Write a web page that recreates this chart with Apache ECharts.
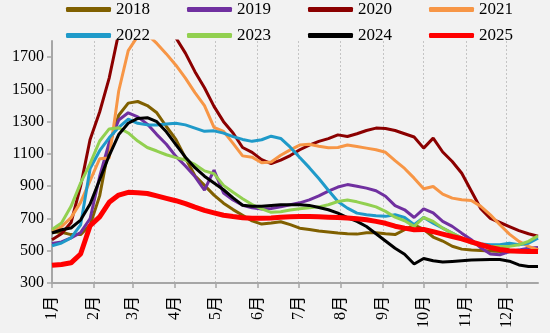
<!DOCTYPE html>
<html><head><meta charset="utf-8">
<script src="https://cdn.jsdelivr.net/npm/echarts@6/dist/echarts.min.js"></script>
<style>html,body{margin:0;padding:0;background:#f2f2f2}#c{width:550px;height:333px}</style>
</head><body><div id="c"></div>
<script>
const years = ['2018','2019','2020','2021','2022','2023','2024','2025'];
const colors = ['#806000','#7030A0','#8B0000','#F79646','#1F9AC9','#92D050','#000000','#FF0000'];
const s2018 = [615,615,600,600,660,840,1150,1340,1415,1425,1400,1355,1270,1190,1075,965,905,845,795,755,720,685,665,672,680,662,640,632,622,616,610,606,603,612,612,605,600,630,660,632,585,560,528,510,504,502,498,496,494,496,505,515];
const s2019 = [545,555,580,612,700,960,1170,1310,1355,1330,1285,1220,1160,1085,1025,960,875,1000,858,815,782,766,758,762,772,785,797,815,840,870,895,910,900,888,872,838,780,754,706,760,735,682,651,609,568,518,480,475,495,505,515,520];
const s2020 = [568,605,675,900,1190,1360,1570,1850,1950,2000,2000,1970,1900,1820,1725,1610,1510,1395,1300,1230,1140,1110,1065,1040,1062,1090,1126,1155,1178,1195,1218,1208,1225,1245,1260,1258,1245,1225,1205,1136,1198,1112,1053,980,870,760,700,675,650,625,605,590];
const s2021 = [622,650,705,800,935,1070,1075,1490,1740,1830,1840,1785,1720,1650,1570,1480,1400,1265,1240,1165,1088,1080,1045,1050,1092,1125,1155,1160,1148,1138,1140,1155,1146,1136,1126,1110,1058,1010,950,884,898,851,826,816,812,775,723,661,603,558,527,506];
const s2022 = [531,548,580,660,1010,1120,1200,1265,1315,1290,1280,1280,1285,1290,1280,1260,1240,1243,1229,1207,1190,1178,1188,1210,1196,1142,1078,1015,948,875,805,764,733,723,717,713,723,706,661,706,671,640,609,578,558,541,537,537,547,537,547,578];
const s2023 = [632,672,775,919,1040,1180,1255,1262,1230,1180,1140,1118,1095,1077,1062,1035,995,978,905,862,822,786,760,738,742,752,760,766,772,785,805,814,803,788,772,744,708,686,651,706,682,640,609,578,547,533,527,527,527,537,558,592];
const s2024 = [610,630,641,690,790,940,1090,1220,1290,1320,1325,1300,1237,1158,1080,1015,962,920,878,828,782,776,775,780,785,785,785,781,768,754,733,706,682,650,605,560,515,478,418,452,438,430,434,438,442,444,446,446,435,412,402,402];
const s2025 = [410,415,425,480,655,710,800,845,862,860,855,840,825,810,792,770,750,735,720,712,705,702,702,703,708,710,712,712,710,708,706,703,698,692,682,670,652,640,630,632,618,603,588,574,555,537,520,508,500,497,496,496];
const monthLabels = ['1月','2月','3月','4月','5月','6月','7月','8月','9月','10月','11月','12月'];
const yTicks = [300,500,700,900,1100,1300,1500,1700];

const allSeries = [s2018,s2019,s2020,s2021,s2022,s2023,s2024,s2025];
const DAY = 86400000;
const startDate = Date.UTC(2023,0,1);
// day-of-year of each weekly observation and of each month start
const weekDays = s2018.map((_, i) => i * 7);
const monthDays = monthLabels.map((_, m) => Math.round((Date.UTC(2023, m, 1) - startDate) / DAY));
const FONT = '"Liberation Serif","Noto Sans CJK SC",serif';

const legendBase = {
  left: 66, itemWidth: 45, itemHeight: 5, itemGap: 37, icon: 'roundRect', padding: 0,
  textStyle: {fontFamily: FONT, fontSize: 17, color: '#000'}
};

const chart = echarts.init(document.getElementById('c'));
chart.setOption({
  animation: false,
  backgroundColor: '#f2f2f2',
  legend: [
    Object.assign({}, legendBase, {top: 1, data: years.slice(0, 4)}),
    Object.assign({}, legendBase, {top: 27, data: years.slice(4)})
  ],
  grid: {left: 52, right: 12, top: 41, bottom: 50, containLabel: false},
  xAxis: {
    type: 'value', min: 0, max: weekDays[weekDays.length - 1],
    axisLine: {show: true, onZero: false, lineStyle: {color: '#a6a6a6', width: 2}},
    axisTick: {show: true, length: 5, customValues: monthDays, lineStyle: {color: '#a6a6a6', width: 1.5}},
    axisLabel: {
      customValues: monthDays, rotate: 90, margin: 13,
      fontFamily: FONT, fontSize: 16, color: '#000',
      formatter: v => monthLabels[monthDays.indexOf(v)]
    },
    splitLine: {show: true, lineStyle: {type: [2, 2], color: '#c4c4c4', width: 1}}
  },
  yAxis: {
    type: 'value', min: 300, max: 1800,
    axisLine: {show: true, lineStyle: {color: '#a6a6a6', width: 2}},
    axisTick: {show: true, length: 5, customValues: yTicks, lineStyle: {color: '#a6a6a6', width: 1.5}},
    axisLabel: {customValues: yTicks, margin: 8, fontFamily: FONT, fontSize: 16, color: '#000',
      formatter: v => String(v)},
    splitLine: {show: false}
  },
  series: years.map((y, k) => ({
    name: y, type: 'line', showSymbol: false, symbol: 'none',
    data: allSeries[k].map((v, i) => [weekDays[i], v]),
    lineStyle: {color: colors[k], width: y === '2025' ? 5 : 3},
    itemStyle: {color: colors[k]},
    clip: true
  }))
});
</script></body></html>
